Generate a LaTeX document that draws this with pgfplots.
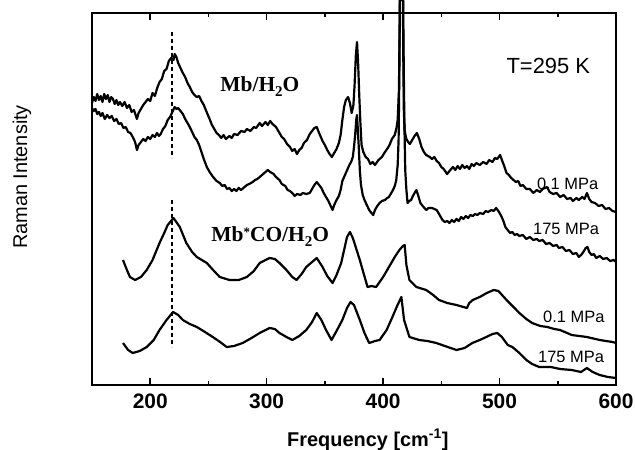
\documentclass[border=0pt]{standalone}
\usepackage{pgfplots}
\pgfplotsset{compat=1.18}
\usepackage{fontspec}
\setmainfont{Liberation Sans}
\newfontfamily\serifbf{Liberation Serif}

% spectra: y is an arbitrary intensity scale (offset traces)
\begin{document}
\begin{tikzpicture}
\useasboundingbox (-92bp,-65bp) rectangle (543bp,385bp);
\begin{axis}[
  at={(0,0)}, anchor=south west,
  scale only axis, width=524bp, height=372bp,
  xmin=150, xmax=600, ymin=0, ymax=372,
  xtick={200,300,...,600}, minor xtick={250,350,450,550},
  ytick=\empty,
  tick align=inside, major tick length=7bp, minor tick length=4bp,
  axis line style={line width=2bp},
  every tick/.style={black, line width=1.6bp},
  tick label style={font=\bfseries\fontsize{21}{21}\selectfont},
  xticklabel style={yshift=-5bp},
  /pgf/number format/assume math mode=true,
  clip=false,
  every axis plot post/.append style={black, mark=none, line width=2.2bp, line join=round},
]
% Mb/H2O, 0.1 MPa
\addplot coordinates {(150,282)(151.5,288)(153,284)(154.5,291)(156,285)(157.5,289)(159,283)(160.5,291)(162,286)(163.5,290)(165,283)(166.5,288)(168,286)(169.5,281)(171,285)(172.5,280)(174,283)(176,279)(178,283)(180,277)(182,280)(184,273)(186,275)(188.6,266)(190,272)(192,276)(194,280)(196,283)(198,286)(200,284)(202,292)(204,289)(206,297)(208,303)(210,306)(212,314)(214,316)(216,324)(218,327)(220,325)(221,331)(222.5,328)(224,322)(225.6,318)(228,312)(230,308)(232,302)(234,298)(236,293)(238,290)(240,288)(242,289)(244,284)(246,280)(248.8,272)(251,266)(253,260)(255,256)(257,252)(259,250)(261,247)(263,250)(265,246)(268,249)(270,247)(272,251)(275,250)(278,254)(281,253)(283,256)(286,254)(289,258)(291,257)(294,262)(296,259)(299,263)(301,260)(303,264)(305,261)(308,258)(310,254)(313,248)(315,246)(317.5,241)(320,238)(322,234)(324,236)(326,231)(328,235)(330,237)(332,242)(334.6,245)(337,251)(339,254)(341,257)(343,258)(345,252)(348,244)(350,240)(352,235)(354,231)(356,228)(358,232)(360,236)(362,242)(363.5,250)(365,265)(366.5,278)(368,285)(369.9,288)(371.5,282)(373,272)(374.5,280)(375.5,300)(376.6,330)(377.6,343)(378.6,320)(379.5,290)(380.5,262)(381.5,240)(383,233)(385,228)(387,226)(389,221)(391,223)(393,220)(396,225)(399,228)(401.6,233)(404,237)(405.5,240)(407.6,246)(410,250)(411.5,257)(412.5,265)(413.6,295)(414.1,350)(414.3,385)(417.0,385)(417.4,320)(417.8,275)(418.4,256)(419.2,250)(420,246)(421.5,243)(423,241)(425,245)(427,249)(429,252)(431,246)(433,238)(435,233)(437,230)(440,228)(442,226)(444,228)(446,224)(448,222)(450,218)(452,216)(455,211)(457,214)(460,218)(462,215)(464,219)(466,216)(468,220)(470,217)(472,219)(474,216)(476,221)(478,219)(480,222)(483,220)(486,223)(489,221)(491,225)(494,223)(496,227)(498,226)(500.5,230)(502,225)(504,219)(506,212)(508,210)(510,207)(512,205)(514,203)(516,204)(518,199)(520,200)(523,196)(526,196)(529,192)(532,195)(534.7,193)(537,196)(540.8,198)(543,193)(546,191)(549,192)(552,188)(555,190)(558,186)(561,187)(563,184)(566,187)(568,185)(571,188)(573,186)(575,192)(577,186)(579,183)(582,182)(585,179)(588,180)(591,176)(594,177)(597,174)(600,173)};
% Mb/H2O, 175 MPa
\addplot coordinates {(150,277)(151.5,274)(153,276)(154.5,271)(156,273)(157.5,269)(159,272)(161,266)(163,270)(165,267)(167,269)(169,264)(171,266)(173,261)(175,262)(177,257)(179,258)(181,253)(183,252)(185,248)(187,243)(188.6,235)(190,240)(192,243)(194,246)(196,244)(198,248)(200,246)(202,250)(204,248)(205.7,252)(207.5,249)(209,251)(211,256)(213,259)(215,265)(217,268)(219,273)(221,278)(222.5,276)(224,277)(226,274)(228,271)(230,266)(233,260)(236,253)(238,248)(240,245)(242,240)(244,233)(246,226)(248.6,218)(251,213)(254,208)(257,204)(259.7,202)(262,199)(264,200)(266,196)(268,197)(270,194)(272,196)(274,194)(276,197)(278,195)(281,198)(283,200)(285,201)(288,203)(290,205)(292,206)(295,209)(297,211)(299,213)(301,215)(303,213)(306,211)(308,208)(311,205)(313,201)(316,199)(318,195)(320,194)(322,192)(324,189)(326,191)(329,190)(331,192)(334,191)(337,192)(339,196)(341,200)(343,203)(345,200)(347,197)(349,192)(351,188)(353,184)(355,179)(356.6,175)(358,180)(360,185)(362,189)(363.5,195)(365,204)(366.5,208)(368,212)(369.5,216)(371,220)(372.5,223)(374,228)(375,238)(376,250)(377,266)(377.6,270)(378.3,255)(379,240)(380,215)(381,200)(382.5,190)(384,185)(386,180)(388,175)(390,172)(391.5,170)(393,175)(395,179)(397,182)(399,184)(401.6,185)(403.5,187)(405,188)(407,192)(408.5,195)(410,199)(411.3,205)(412.5,220)(413.3,245)(414.0,320)(414.4,385)(417.2,385)(417.7,320)(418.3,260)(419,215)(420,195)(421,182)(422.5,184)(424,185)(426,190)(428.6,195)(430,190)(432,182)(434,179)(437,175)(439,177)(442,177)(444,176)(446,175)(448,171)(451,165)(453,163)(455,164)(457,162)(459,165)(461,163)(463,166)(465,164)(467,168)(469,166)(471,169)(473,167)(475,170)(477,169)(479,171)(481,170)(483,172)(486,171)(488,174)(490,173)(493,175)(495,174)(497,177)(499,174)(501,170)(503,165)(505,158)(507,155)(509,152)(511,153)(513,150)(515,151)(517,149)(520,150)(523,146)(526,148)(529,145)(532,146)(534,144)(537,145)(540,141)(543,142)(546,139)(549,140)(551,137)(554,138)(557,134)(560,135)(563,131)(566,132)(568,128)(570,130)(572,133)(574,137)(575.5,138)(577,133)(579,130)(581,131)(583,127)(586,129)(589,126)(592,127)(595,124)(598,125)(600,123)};
% Mb*CO/H2O, 0.1 MPa
\addplot coordinates {(176.6,125)(180,115)(182.6,108)(187,105)(192,108)(197,115)(202,125)(208,142)(212,152)(215,160)(220,167)(225.4,158)(231,142)(236,133)(240,128)(248.6,122)(254,115)(259.7,108)(268,105)(276,105)(283,108)(289,114)(294,122)(299,125)(302.6,127)(307,126)(311,122)(317,115)(322,108)(325.7,105)(330,111)(334,118)(339,123)(343,127)(348,118)(352,109)(356.6,102)(360,110)(364,122)(369,148)(371.5,153)(374,147)(380,125)(386.6,98)(390,99)(394,98)(400,108)(405,118)(410,128)(414,135)(417,139)(418.5,140)(420,120)(422.6,105)(428.6,98)(437,95)(443,90)(448,85)(455,82)(463,80)(472,77)(474,82)(477,85)(483,88)(489,92)(495,95)(499,94)(506,85)(512,78)(517,72)(523,66)(528,62)(535,59)(541,58)(547,56)(552,55)(562,50)(575,48)(586,45)(597,43)(600,42)};
% Mb*CO/H2O, 175 MPa
\addplot coordinates {(176.6,42)(181,35)(185,32)(191,34)(197,38)(203,45)(208,55)(214,65)(219.6,73)(224,70)(228,65)(234,61)(240,58)(247,53)(253.7,48)(260,43)(265.7,38)(272,39)(279.4,42)(287,47)(294,52)(302.6,57)(307,56)(311,52)(317,48)(322,45)(328,49)(334,55)(339,63)(343,72)(347,65)(351,55)(355.7,45)(360,54)(365,65)(369,77)(372,83)(375,80)(380,65)(384,52)(388,42)(393,44)(397,45)(403,55)(408,68)(412,79)(415.7,88)(418,65)(422.6,48)(431,45)(438,44)(445.7,42)(453,39)(463,35)(470,37)(476.6,42)(483,45)(488.6,48)(494,51)(498,52)(502,48)(507,40)(511,38)(517,32)(523,25)(528,21)(534,18)(544,18)(552,16)(562,15)(570,13)(575,17)(580,13)(586,10)(593,8)(600,7)};
% 220 cm-1 markers
\addplot [line width=1.6bp, dash pattern=on 4bp off 3bp] coordinates {(219,353)(219,227)};
\addplot [line width=1.6bp, dash pattern=on 4bp off 3bp] coordinates {(219,185)(219,38)};
% annotations
\node [anchor=base west, font=\serifbf\bfseries\fontsize{21.5}{21.5}\selectfont] at (257.3,293) {Mb/H\raisebox{-0.45ex}{\fontsize{15}{15}\selectfont 2}O};
\node [anchor=base west, font=\serifbf\bfseries\fontsize{21.5}{21.5}\selectfont] at (249.6,143) {Mb\raisebox{0.55ex}{\fontsize{13}{13}\selectfont *}CO/H\raisebox{-0.45ex}{\fontsize{15}{15}\selectfont 2}O};
\node [anchor=base west, font=\fontsize{22}{22}\selectfont] at (503,311) {T=295 K};
\node [anchor=base west, font=\fontsize{16.5}{16.5}\selectfont, inner sep=0pt] at (532,195) {0.1 MPa};
\node [anchor=base west, font=\fontsize{16.5}{16.5}\selectfont, inner sep=0pt] at (528.7,150) {175 MPa};
\node [anchor=base west, font=\fontsize{16.5}{16.5}\selectfont, inner sep=0pt] at (537.3,63) {0.1 MPa};
\node [anchor=base west, font=\fontsize{16.5}{16.5}\selectfont, inner sep=0pt] at (533,23) {175 MPa};
\node [anchor=base west, font=\bfseries\fontsize{20}{20}\selectfont, inner sep=0pt] at (317.5,-61) {Frequency [cm\textsuperscript{-1}]};
\node [rotate=90, font=\fontsize{20}{20}\selectfont, inner sep=0pt] at (89.9,208) {Raman Intensity};
\end{axis}
\end{tikzpicture}
\end{document}
